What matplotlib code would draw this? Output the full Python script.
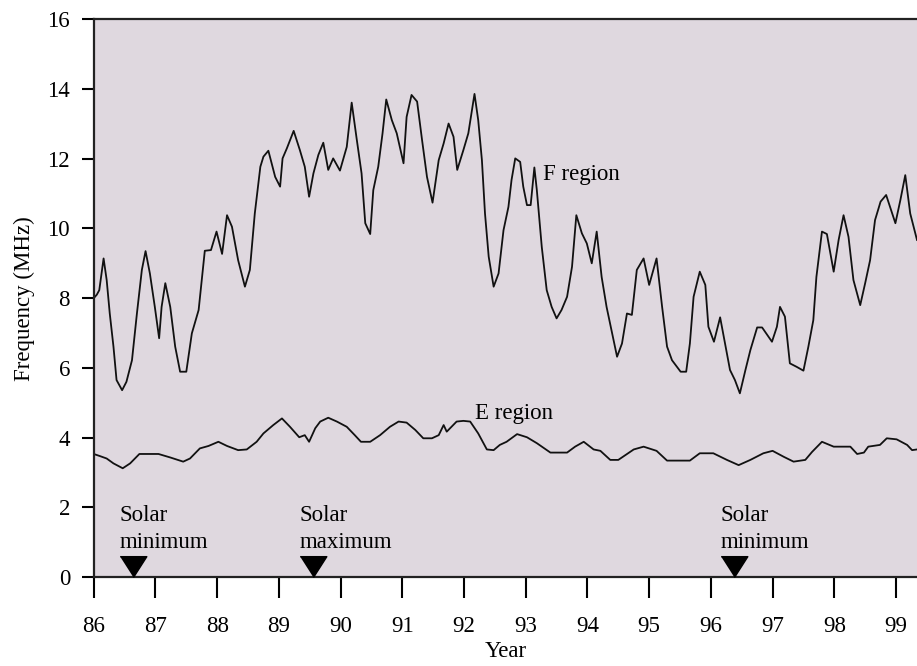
import numpy as np
import matplotlib
matplotlib.use("Agg")
import matplotlib.pyplot as plt

# F region critical frequency (MHz)
f_years = [86.0, 86.05, 86.09, 86.16, 86.21, 86.26, 86.32, 86.37, 86.46, 86.53,
           86.62, 86.70, 86.78, 86.84, 86.91, 86.99, 87.06, 87.10, 87.16, 87.24,
           87.32, 87.40, 87.50, 87.59, 87.70, 87.80, 87.90, 87.99, 88.08, 88.16,
           88.24, 88.34, 88.45, 88.53, 88.61, 88.70, 88.75, 88.83, 88.94, 89.02,
           89.06, 89.13, 89.24, 89.34, 89.42, 89.49, 89.56, 89.64, 89.72, 89.80,
           89.88, 89.99, 90.10, 90.18, 90.26, 90.34, 90.40, 90.48, 90.53, 90.61,
           90.68, 90.74, 90.83, 90.91, 91.02, 91.07, 91.15, 91.24, 91.32, 91.40,
           91.49, 91.59, 91.67, 91.75, 91.83, 91.89, 91.99, 92.07, 92.17, 92.23,
           92.29, 92.34, 92.40, 92.48, 92.56, 92.64, 92.72, 92.77, 92.83, 92.91,
           92.96, 93.02, 93.08, 93.14, 93.18, 93.26, 93.34, 93.42, 93.50, 93.58,
           93.67, 93.75, 93.82, 93.91, 93.99, 94.07, 94.15, 94.23, 94.31, 94.40,
           94.48, 94.56, 94.64, 94.72, 94.80, 94.91, 95.00, 95.12, 95.21, 95.29,
           95.37, 95.51, 95.60, 95.66, 95.72, 95.82, 95.91, 95.96, 96.05, 96.15,
           96.23, 96.31, 96.39, 96.47, 96.56, 96.64, 96.75, 96.83, 96.99, 97.07,
           97.12, 97.20, 97.28, 97.39, 97.50, 97.58, 97.66, 97.71, 97.80, 97.88,
           97.99, 98.07, 98.15, 98.23, 98.31, 98.42, 98.50, 98.58, 98.66, 98.75,
           98.84, 98.91, 98.99, 99.07, 99.15, 99.23, 99.34]
f_vals = [8.0, 8.1, 8.23, 9.14, 8.52, 7.56, 6.61, 5.65, 5.36, 5.6,
          6.22, 7.56, 8.81, 9.35, 8.71, 7.75, 6.85, 7.75, 8.43, 7.75,
          6.61, 5.89, 5.89, 6.99, 7.66, 9.36, 9.38, 9.91, 9.27, 10.38,
          10.05, 9.09, 8.33, 8.81, 10.43, 11.77, 12.06, 12.23, 11.48, 11.2,
          12.01, 12.3, 12.8, 12.25, 11.77, 10.91, 11.58, 12.11, 12.46, 11.68,
          12.01, 11.66, 12.34, 13.61, 12.58, 11.58, 10.15, 9.84, 11.1, 11.77,
          12.73, 13.7, 13.11, 12.73, 11.87, 13.2, 13.83, 13.64, 12.54, 11.48,
          10.74, 11.96, 12.44, 13.01, 12.63, 11.68, 12.25, 12.73, 13.86, 13.11,
          11.96, 10.43, 9.19, 8.33, 8.71, 9.95, 10.62, 11.39, 12.01, 11.91,
          11.2, 10.67, 10.67, 11.75, 11.1, 9.47, 8.23, 7.75, 7.42, 7.66,
          8.04, 8.9, 10.38, 9.86, 9.57, 9.0, 9.91, 8.61, 7.75, 6.99,
          6.32, 6.7, 7.56, 7.52, 8.81, 9.14, 8.38, 9.14, 7.75, 6.61,
          6.22, 5.89, 5.89, 6.7, 8.04, 8.76, 8.38, 7.18, 6.75, 7.45,
          6.7, 5.94, 5.65, 5.27, 5.94, 6.51, 7.16, 7.16, 6.75, 7.18,
          7.75, 7.47, 6.13, 6.03, 5.92, 6.61, 7.37, 8.61, 9.91, 9.84,
          8.76, 9.67, 10.38, 9.76, 8.52, 7.8, 8.43, 9.09, 10.24, 10.77,
          10.96, 10.58, 10.15, 10.81, 11.53, 10.43, 9.67]

# E region critical frequency (MHz)
e_years = [86.0, 86.10, 86.21, 86.32, 86.47, 86.59, 86.74, 87.05, 87.24, 87.45,
           87.56, 87.72, 87.86, 88.02, 88.16, 88.34, 88.48, 88.64, 88.75, 88.91,
           89.05, 89.18, 89.33, 89.42, 89.49, 89.59, 89.67, 89.80, 89.94, 90.10,
           90.23, 90.33, 90.48, 90.64, 90.80, 90.94, 91.07, 91.21, 91.34, 91.48,
           91.59, 91.67, 91.72, 91.88, 91.99, 92.10, 92.23, 92.37, 92.48, 92.58,
           92.69, 92.86, 93.02, 93.18, 93.40, 93.67, 93.80, 93.94, 94.10, 94.21,
           94.37, 94.50, 94.75, 94.91, 95.12, 95.29, 95.66, 95.82, 96.04, 96.26,
           96.45, 96.64, 96.85, 97.00, 97.18, 97.34, 97.53, 97.64, 97.80, 97.99,
           98.26, 98.37, 98.48, 98.55, 98.74, 98.85, 99.01, 99.18, 99.26, 99.34]
e_vals = [3.53, 3.47, 3.40, 3.26, 3.12, 3.26, 3.53, 3.53, 3.43, 3.31,
          3.40, 3.69, 3.76, 3.88, 3.76, 3.64, 3.66, 3.88, 4.12, 4.36,
          4.55, 4.31, 4.01, 4.07, 3.88, 4.27, 4.46, 4.57, 4.46, 4.31,
          4.07, 3.88, 3.88, 4.07, 4.31, 4.46, 4.43, 4.22, 3.98, 3.98,
          4.07, 4.36, 4.17, 4.46, 4.48, 4.46, 4.12, 3.66, 3.64, 3.79,
          3.88, 4.10, 4.01, 3.84, 3.57, 3.57, 3.74, 3.88, 3.66, 3.62,
          3.36, 3.36, 3.66, 3.74, 3.62, 3.34, 3.34, 3.55, 3.55, 3.36,
          3.21, 3.36, 3.55, 3.62, 3.45, 3.31, 3.36, 3.59, 3.88, 3.74,
          3.74, 3.53, 3.57, 3.74, 3.79, 3.98, 3.95, 3.79, 3.64, 3.66]

solar_years = [86.64, 89.56, 96.38]
solar_labels = ["Solar\nminimum", "Solar\nmaximum", "Solar\nminimum"]
year_ticks = list(range(86, 100))
freq_ticks = list(range(0, 17, 2))

plt.rcParams['font.family'] = ['Liberation Serif', 'DejaVu Serif']
plt.rcParams['font.size'] = 16.5

fig = plt.figure(figsize=(9.17, 6.66), dpi=100)
ax = fig.add_axes([0.1022, 0.1336, 0.8978, 0.8374])
ax.set_facecolor('#dfd8df')

ax.plot(f_years, f_vals, color='#111111', lw=1.3)
ax.plot(e_years, e_vals, color='#111111', lw=1.3)

# downward triangles sitting on the time axis
tri = [(-0.64, 1.0), (0.64, 1.0), (0.0, 0.0)]
ax.plot(solar_years, [0] * len(solar_years), linestyle='none', marker=tri,
        markersize=30, color='black', clip_on=False, zorder=5)
for yr, lab in zip(solar_years, solar_labels):
    ax.annotate(lab, xy=(yr, 0), xytext=(-10, 17), textcoords='offset points',
                ha='left', va='bottom', linespacing=1.4)

ax.text(93.28, 11.39, "F region", ha='left', va='baseline')
ax.text(92.18, 4.52, "E region", ha='left', va='baseline')

ax.set_xlim(86, 99.34)
ax.set_ylim(0, 16)
ax.set_xticks(year_ticks)
ax.set_yticks(freq_ticks)
ax.tick_params(axis='x', direction='out', length=15, width=1.5, pad=13)
ax.tick_params(axis='y', direction='out', length=9, width=1.5, pad=8)
for s in ['left', 'bottom', 'top']:
    ax.spines[s].set_linewidth(1.6)
    ax.spines[s].set_color('#222222')
ax.spines['right'].set_visible(False)

ax.set_xlabel("Year", labelpad=3)
ax.set_ylabel("Frequency (MHz)", labelpad=9)

fig.savefig("out.png", dpi=100)
